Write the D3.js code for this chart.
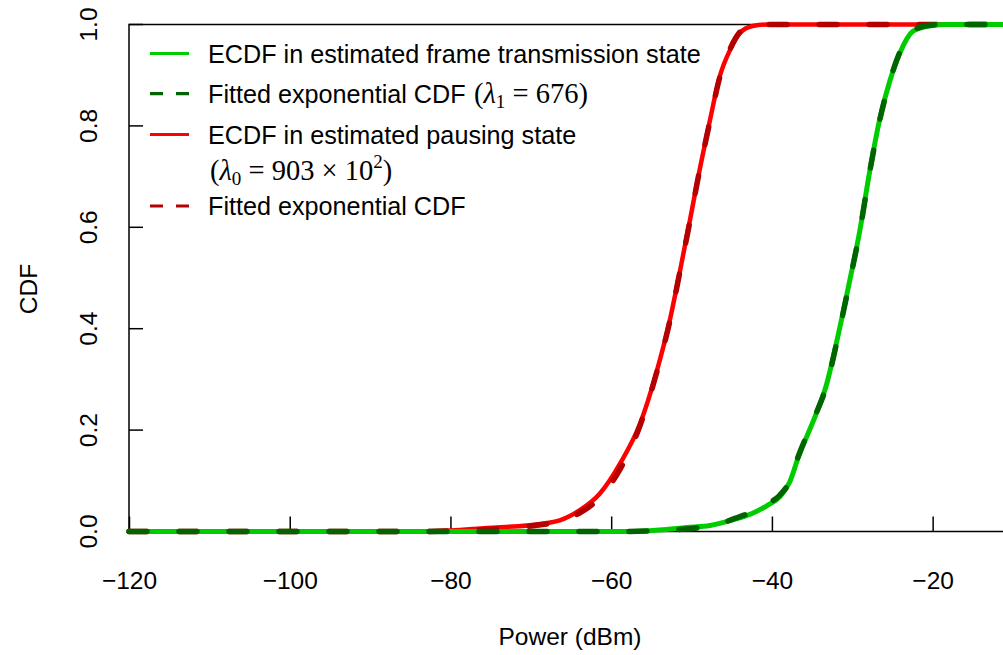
<!DOCTYPE html>
<html>
<head>
<meta charset="utf-8">
<script src="https://cdn.jsdelivr.net/npm/d3@7"></script>
<style>
  html, body { margin: 0; padding: 0; background: #fff; }
  svg { display: block; }
  text { font-family: "Liberation Sans", Arial, Helvetica, sans-serif; fill: #000; }
  .math { font-family: "Liberation Serif", "Times New Roman", serif; }
</style>
</head>
<body>
<svg id="chart" width="1003" height="655"></svg>
<script>
// ---- Data ----
const xTicks = [-120, -100, -80, -60, -40, -20];
const yTicks = [0, 0.2, 0.4, 0.6, 0.8, 1.0];

// ECDF in estimated pausing state (red)
const pausePower = [-120, -84, -80, -75.5, -70.5, -66.4, -63.9, -61.4, -58.9, -56.4, -54.4, -52.7, -51.5, -50.2, -49.0, -47.7, -46.5, -45.2, -44.0, -42.4, -40.5, -10];
const pauseECDF  = [0, 0, 0.002, 0.007, 0.012, 0.022, 0.042, 0.075, 0.134, 0.213, 0.312, 0.417, 0.509, 0.614, 0.713, 0.812, 0.897, 0.950, 0.983, 0.997, 1.0, 1.0];

// Fitted exponential CDF for pausing state (dark red, dashed)
const pauseFitPower = [-120, -85, -80, -75, -70, -67, -64, -62, -59, -56.5, -54.4, -52.7, -51.5, -50.2, -49.0, -47.7, -46.5, -45.2, -44.0, -42.6, -41, -10];
const pauseFit      = [0, 0, 0.001, 0.004, 0.011, 0.018, 0.036, 0.058, 0.12, 0.205, 0.31, 0.415, 0.508, 0.612, 0.712, 0.81, 0.895, 0.952, 0.985, 0.998, 1.0, 1.0];

// ECDF in estimated frame transmission state (green)
const txPower = [-120, -58, -54, -50.6, -47.7, -44.9, -42.4, -40.5, -39.0, -37.8, -36.7, -34.5, -33.2, -32.0, -30.3, -29.1, -27.8, -26.6, -25.3, -24.1, -22.5, -20.8, -18.5, -10];
const txECDF  = [0, 0, 0.003, 0.008, 0.012, 0.023, 0.036, 0.052, 0.069, 0.097, 0.147, 0.232, 0.29, 0.37, 0.496, 0.59, 0.713, 0.812, 0.89, 0.943, 0.986, 0.996, 1.0, 1.0];

// Fitted exponential CDF for transmission state (dark green, dashed)
const txFitPower = [-120, -59, -54, -50, -47, -44.6, -42.4, -40.5, -39.0, -37.8, -36.8, -34.6, -33.2, -32.0, -30.3, -29.1, -27.8, -26.6, -25.3, -24.1, -22.6, -21, -19, -10];
const txFit      = [0, 0, 0.002, 0.006, 0.012, 0.026, 0.039, 0.055, 0.072, 0.099, 0.145, 0.229, 0.288, 0.368, 0.495, 0.589, 0.712, 0.81, 0.89, 0.945, 0.985, 0.997, 1.0, 1.0];

const legendLabels = [
  "ECDF in estimated frame transmission state",
  "Fitted exponential CDF ",
  "ECDF in estimated pausing state",
  "",
  "Fitted exponential CDF"
];

// ---- Layout ----
const svg = d3.select("#chart");
const plotL = 129, plotT = 24.5, plotB = 531.5, plotR = 1013;

const x = d3.scaleLinear().domain([-120, -10]).range([plotL, plotR]);
const y = d3.scaleLinear().domain([0, 1]).range([plotB, plotT]);

// frame (right side falls outside the canvas)
svg.append("rect")
  .attr("x", plotL).attr("y", plotT)
  .attr("width", plotR - plotL).attr("height", plotB - plotT)
  .attr("fill", "none").attr("stroke", "#000").attr("stroke-width", 1.5);

// x axis: inward ticks
const xAxis = d3.axisBottom(x)
  .tickValues(xTicks)
  .tickSizeInner(-15).tickSizeOuter(0).tickPadding(40)
  .tickFormat(d3.format("d"));
const gx = svg.append("g").attr("transform", `translate(0,${plotB})`).call(xAxis);
gx.select(".domain").remove();
gx.selectAll(".tick line").attr("stroke", "#000").attr("stroke-width", 1.5);
gx.selectAll(".tick text")
  .attr("font-size", 24.5)
  .attr("font-family", "Liberation Sans, Arial, sans-serif")
  .attr("fill", "#000");

// y axis: inward ticks, rotated labels
const gy = svg.append("g");
gy.selectAll("line").data(yTicks).join("line")
  .attr("x1", plotL).attr("x2", plotL + 14)
  .attr("y1", d => y(d)).attr("y2", d => y(d))
  .attr("stroke", "#000").attr("stroke-width", 1.5);
gy.selectAll("text").data(yTicks).join("text")
  .attr("transform", d => `translate(97,${y(d)}) rotate(-90)`)
  .attr("text-anchor", "middle")
  .attr("font-size", 24.5)
  .text(d => d3.format(".1f")(d));

// axis titles
svg.append("text")
  .attr("x", 570).attr("y", 645)
  .attr("text-anchor", "middle").attr("font-size", 24.5)
  .text("Power (dBm)");
svg.append("text")
  .attr("transform", "translate(37,289) rotate(-90)")
  .attr("text-anchor", "middle").attr("font-size", 24.5)
  .text("CDF");

// ---- Curves ----
const line = d3.line()
  .x(d => x(d[0])).y(d => y(d[1]))
  .curve(d3.curveMonotoneX);

const zip = (a, b) => a.map((v, i) => [v, b[i]]);
const dash = "18,32";

svg.append("path").datum(zip(pausePower, pauseECDF))
  .attr("d", line).attr("fill", "none")
  .attr("stroke", "#FF0000").attr("stroke-width", 4.5)
  .attr("stroke-linejoin", "round").attr("stroke-linecap", "round");
svg.append("path").datum(zip(pauseFitPower, pauseFit))
  .attr("d", line).attr("fill", "none")
  .attr("stroke", "#B30000").attr("stroke-width", 5.5)
  .attr("stroke-dasharray", dash)
  .attr("stroke-linejoin", "round").attr("stroke-linecap", "round");

svg.append("path").datum(zip(txPower, txECDF))
  .attr("d", line).attr("fill", "none")
  .attr("stroke", "#00CD00").attr("stroke-width", 5)
  .attr("stroke-linejoin", "round").attr("stroke-linecap", "round");
svg.append("path").datum(zip(txFitPower, txFit))
  .attr("d", line).attr("fill", "none")
  .attr("stroke", "#006400").attr("stroke-width", 5.5)
  .attr("stroke-dasharray", dash)
  .attr("stroke-linejoin", "round").attr("stroke-linecap", "round");

// ---- Legend ----
const legendRows = [
  { y: 53.5, color: "#00CD00", dashed: false },
  { y: 93.7, color: "#006400", dashed: true },
  { y: 134.5, color: "#FF0000", dashed: false },
  { y: 171, color: null, dashed: false },
  { y: 206, color: "#B30000", dashed: true }
];
const lg = svg.append("g");
legendRows.forEach((r, i) => {
  if (r.color) {
    lg.append("line")
      .attr("x1", 150).attr("x2", 189)
      .attr("y1", r.y).attr("y2", r.y)
      .attr("stroke", r.color).attr("stroke-width", 3.2)
      .attr("stroke-dasharray", r.dashed ? "13,13" : null);
  }
  if (legendLabels[i]) {
    lg.append("text")
      .attr("x", 208).attr("y", r.y + 9)
      .attr("font-size", 25.2)
      .text(legendLabels[i]);
  }
});

// math: (λ1 = 676)
const m1 = lg.append("text").attr("class", "math")
  .attr("x", 474).attr("y", legendRows[1].y + 9).attr("font-size", 28.5);
m1.append("tspan").text("(");
m1.append("tspan").attr("font-style", "italic").text("λ");
m1.append("tspan").attr("font-size", 19).attr("dy", 5).text("1");
m1.append("tspan").attr("dy", -5).text(" = 676)");

// math: (λ0 = 903 × 10^2)
const m2 = lg.append("text").attr("class", "math")
  .attr("x", 210).attr("y", legendRows[3].y + 9).attr("font-size", 28.5);
m2.append("tspan").text("(");
m2.append("tspan").attr("font-style", "italic").text("λ");
m2.append("tspan").attr("font-size", 19).attr("dy", 5).text("0");
m2.append("tspan").attr("dy", -5).text(" = 903 × 10");
m2.append("tspan").attr("font-size", 19).attr("dy", -12).text("2");
m2.append("tspan").attr("dy", 12).text(")");
</script>
</body>
</html>
